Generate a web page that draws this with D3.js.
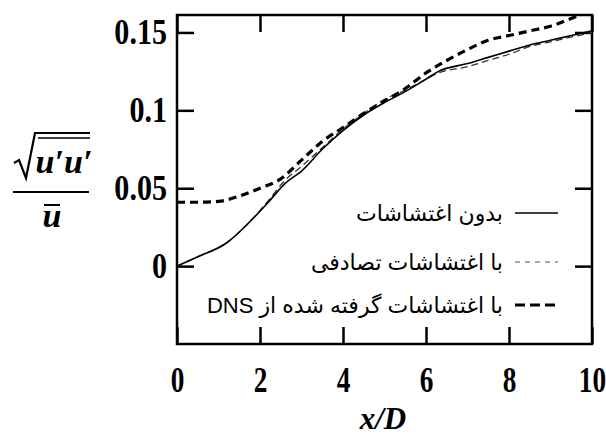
<!DOCTYPE html>
<html>
<head>
<meta charset="utf-8">
<script src="https://cdn.jsdelivr.net/npm/d3@7"></script>
<style>
  body { margin: 0; background: #fff; }
  svg { display: block; }
</style>
</head>
<body>
<svg width="606" height="436"></svg>
<script>
// values
let xs = [0, 0.5, 1.2, 1.7, 2.2, 2.6, 3.0, 3.5, 4.0, 4.5, 5.0, 5.5, 6.0, 6.3, 7.0, 7.5, 8.0, 8.5, 9.0, 9.5, 10]
let noPert = [0, 0.006, 0.015, 0.027, 0.041, 0.053, 0.061, 0.075, 0.087, 0.097, 0.105, 0.112, 0.12, 0.125, 0.13, 0.134, 0.138, 0.142, 0.145, 0.148, 0.151]
let randomPert = [0, 0.006, 0.015, 0.027, 0.042, 0.055, 0.064, 0.076, 0.088, 0.098, 0.107, 0.113, 0.12, 0.124, 0.128, 0.132, 0.136, 0.141, 0.144, 0.147, 0.15]
let dnsX = [0, 0.5, 1.0, 1.5, 2.0, 2.5, 3.0, 3.5, 4.0, 4.5, 5.0, 5.5, 6.0, 6.5, 7.0, 7.5, 8.0, 8.5, 9.0, 9.5, 10]
let dnsPert = [0.041, 0.041, 0.0415, 0.045, 0.05, 0.056, 0.068, 0.08, 0.089, 0.098, 0.106, 0.114, 0.124, 0.132, 0.139, 0.145, 0.148, 0.151, 0.154, 0.159, 0.164]

let xTicks = [0, 2, 4, 6, 8, 10]
let yTicks = [0, 0.05, 0.1, 0.15]
let yTickLabels = ["0", "0.05", "0.1", "0.15"]
let legendLabels = ["بدون اغتشاشات", "با اغتشاشات تصادفی", "با اغتشاشات گرفته شده از DNS"]

let svg = d3.select("svg")
let margin = {top: 15, right: 14, bottom: 92, left: 177}
let width = svg.attr("width") - margin.left - margin.right
let height = svg.attr("height") - margin.top - margin.bottom

let x = d3.scaleLinear().domain([0, 10]).range([0, width])
let y = d3.scaleLinear().domain([-0.05, 0.1612]).range([height, 0])

let g = svg.append("g")
    .attr("transform", "translate(" + margin.left + "," + margin.top + ")")

g.append("clipPath").attr("id", "clip")
  .append("rect").attr("width", width).attr("height", height)

let serif = "'Liberation Serif', 'Times New Roman', serif"
let tick = 17

// axes, ticks pointing inward
let xAxis = g.append("g")
    .attr("transform", "translate(0," + height + ")")
    .call(d3.axisBottom(x).tickValues(xTicks).tickSize(-tick).tickPadding(23))
let yAxis = g.append("g")
    .call(d3.axisLeft(y).tickValues(yTicks).tickSize(-tick).tickPadding(10)
      .tickFormat((d, i) => yTickLabels[i]))
g.append("g")
    .call(d3.axisTop(x).tickValues(xTicks).tickSize(-tick).tickFormat(""))
g.append("g")
    .attr("transform", "translate(" + width + ",0)")
    .call(d3.axisRight(y).tickValues(yTicks).tickSize(-tick).tickFormat(""))

g.selectAll(".domain").remove()
g.selectAll(".tick line").attr("stroke", "#000").attr("stroke-width", 2.5)
g.selectAll(".tick text")
    .attr("font-family", serif)
    .attr("font-weight", "bold")
    .attr("font-size", 35)
    .attr("fill", "#000")

// narrow, tall digits like the original
xAxis.selectAll(".tick text").attr("transform", "scale(0.78,1)")
yAxis.selectAll(".tick text")
    .attr("x", -10 / 0.86)
    .attr("transform", "scale(0.86,1)")

g.append("rect")
    .attr("width", width).attr("height", height)
    .attr("fill", "none").attr("stroke", "#000").attr("stroke-width", 2.5)

// curves
let line = d3.line().x(d => x(d[0])).y(d => y(d[1])).curve(d3.curveMonotoneX)
let lines = g.append("g").attr("clip-path", "url(#clip)")

lines.append("path")
    .datum(xs.map((v, i) => [v, randomPert[i]]))
    .attr("d", line).attr("fill", "none")
    .attr("stroke", "#333").attr("stroke-width", 1.3).attr("stroke-dasharray", "7,4")
lines.append("path")
    .datum(xs.map((v, i) => [v, noPert[i]]))
    .attr("d", line).attr("fill", "none")
    .attr("stroke", "#000").attr("stroke-width", 1.6)
lines.append("path")
    .datum(dnsX.map((v, i) => [v, dnsPert[i]]))
    .attr("d", line).attr("fill", "none")
    .attr("stroke", "#000").attr("stroke-width", 3.2).attr("stroke-dasharray", "8,5")

// legend
let legendY = [213, 262, 305]
let legendStyles = [
  {stroke: "#000", w: 1.6, dash: null},
  {stroke: "#555", w: 1.2, dash: "5,5"},
  {stroke: "#000", w: 3, dash: "10,5"}
]
legendLabels.forEach((t, i) => {
  svg.append("line")
      .attr("x1", 515).attr("x2", 558)
      .attr("y1", legendY[i]).attr("y2", legendY[i])
      .attr("stroke", legendStyles[i].stroke)
      .attr("stroke-width", legendStyles[i].w)
      .attr("stroke-dasharray", legendStyles[i].dash)
  svg.append("text")
      .attr("x", 503).attr("y", legendY[i])
      .attr("dy", "0.35em")
      .attr("direction", "rtl")
      .attr("text-anchor", "start")
      .attr("font-family", "'Liberation Sans', 'DejaVu Sans', sans-serif")
      .attr("font-size", 22)
      .text(t)
})

// axis titles
svg.append("text")
    .attr("x", 383).attr("y", 429)
    .attr("text-anchor", "middle")
    .attr("font-family", serif)
    .attr("font-style", "italic").attr("font-weight", "bold")
    .attr("font-size", 31)
    .text("x/D")

let yl = svg.append("g")
yl.append("path")
    .attr("d", "M14,163 L19,160 L26,178 L35,133 L90,133")
    .attr("fill", "none").attr("stroke", "#000").attr("stroke-width", 2.2)
yl.append("line")
    .attr("x1", 38).attr("x2", 90).attr("y1", 138).attr("y2", 138)
    .attr("stroke", "#000").attr("stroke-width", 1.6)
yl.append("text")
    .attr("x", 64).attr("y", 173)
    .attr("text-anchor", "middle")
    .attr("font-family", serif)
    .attr("font-style", "italic").attr("font-weight", "bold")
    .attr("font-size", 34)
    .text("u′u′")
yl.append("line")
    .attr("x1", 13).attr("x2", 89).attr("y1", 192).attr("y2", 192)
    .attr("stroke", "#000").attr("stroke-width", 2.2)
yl.append("text")
    .attr("x", 52).attr("y", 227)
    .attr("text-anchor", "middle")
    .attr("font-family", serif)
    .attr("font-style", "italic").attr("font-weight", "bold")
    .attr("font-size", 34)
    .text("u")
yl.append("line")
    .attr("x1", 44).attr("x2", 60).attr("y1", 205).attr("y2", 205)
    .attr("stroke", "#000").attr("stroke-width", 2)
</script>
</body>
</html>
